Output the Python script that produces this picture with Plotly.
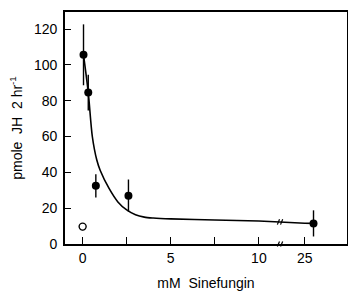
import plotly.graph_objects as go

# ---- data ----
conc = [0.05, 0.32, 0.75, 2.6, 25.5]          # mM Sinefungin
jh = [105.6, 84.5, 32.5, 27.0, 11.5]          # pmole JH 2 hr-1
jh_err = [17.0, 10.0, 6.5, 9.0, 7.3]

ctrl_conc = [0.0]
ctrl_jh = [9.7]
ctrl_err = [2.0]

fit_conc = [0.05, 0.32, 0.55, 0.8, 1.0, 1.5, 2.0, 2.5, 3.0, 3.5, 4.0, 5.0, 7.5, 10.0, 25.0, 25.5]
fit_jh = [105.6, 84.5, 60.0, 47.0, 41.0, 31.0, 23.5, 19.0, 16.3, 15.0, 14.5, 14.0, 13.4, 12.8, 11.6, 11.5]

tick_vals = [0, 2.5, 5, 7.5, 10, 25]
tick_text = ["0", "", "5", "", "10", "25"]
y_ticks = [0, 20, 40, 60, 80, 100, 120]

# broken x axis: values beyond the break are shifted left
BREAK_AT = 11.2
BREAK_SHIFT = 12.4


def disp(v):
    return v if v <= BREAK_AT else v - BREAK_SHIFT


FONT = "Liberation Sans, Arial, DejaVu Sans"

fig = go.Figure()

fig.add_trace(go.Scatter(
    x=[disp(v) for v in fit_conc], y=fit_jh, mode="lines",
    line=dict(color="black", width=1.6, shape="spline", smoothing=0.8),
    hoverinfo="skip", showlegend=False))

fig.add_trace(go.Scatter(
    x=[disp(v) for v in conc], y=jh, mode="markers",
    marker=dict(color="black", size=8),
    error_y=dict(type="data", array=jh_err, visible=True, width=0,
                 thickness=1.4, color="black"),
    showlegend=False))

fig.add_trace(go.Scatter(
    x=[disp(v) for v in ctrl_conc], y=ctrl_jh, mode="markers",
    marker=dict(color="white", size=7, line=dict(color="black", width=1.4)),
    error_y=dict(type="data", array=ctrl_err, visible=True, width=0,
                 thickness=1.2, color="black"),
    showlegend=False))

# break marks ("//") on the curve and on the x axis
shapes = []
for dx in (-0.09, 0.09):
    xc = BREAK_AT + dx
    shapes.append(dict(type="line", xref="x", yref="y",
                       x0=xc - 0.06, x1=xc + 0.06, y0=10.8, y1=13.8,
                       line=dict(color="black", width=1.2)))
    shapes.append(dict(type="line", xref="x", yref="paper",
                       x0=xc - 0.06, x1=xc + 0.06, y0=-0.011, y1=0.011,
                       line=dict(color="black", width=1.2)))

fig.update_layout(
    width=348, height=291,
    margin=dict(l=65, r=1, t=12, b=47),
    paper_bgcolor="white", plot_bgcolor="white",
    font=dict(family=FONT, size=14, color="black"),
    shapes=shapes,
    xaxis=dict(
        range=[-1.0, 15.0], tickvals=[disp(v) for v in tick_vals], ticktext=tick_text,
        ticks="inside", ticklen=7, tickwidth=1.2, tickcolor="black",
        showline=True, linecolor="black", linewidth=1.6, mirror=True,
        showgrid=False, zeroline=False, automargin=False,
        title=dict(text="mM  Sinefungin", font=dict(size=14), standoff=17),
    ),
    yaxis=dict(
        range=[0, 129.5], tickvals=y_ticks,
        ticks="inside", ticklen=6, tickwidth=1.2, tickcolor="black",
        showline=True, linecolor="black", linewidth=1.6, mirror=True,
        showgrid=False, zeroline=False, ticklabelstandoff=3, automargin=False,
        title=dict(text="pmole  JH  2 hr<sup>-1</sup>", font=dict(size=14), standoff=8),
    ),
)

fig.write_html(
    "out.html",
    config={"responsive": False, "displayModeBar": False},
    post_script="document.body.style.margin='0';document.body.style.padding='0';",
)
